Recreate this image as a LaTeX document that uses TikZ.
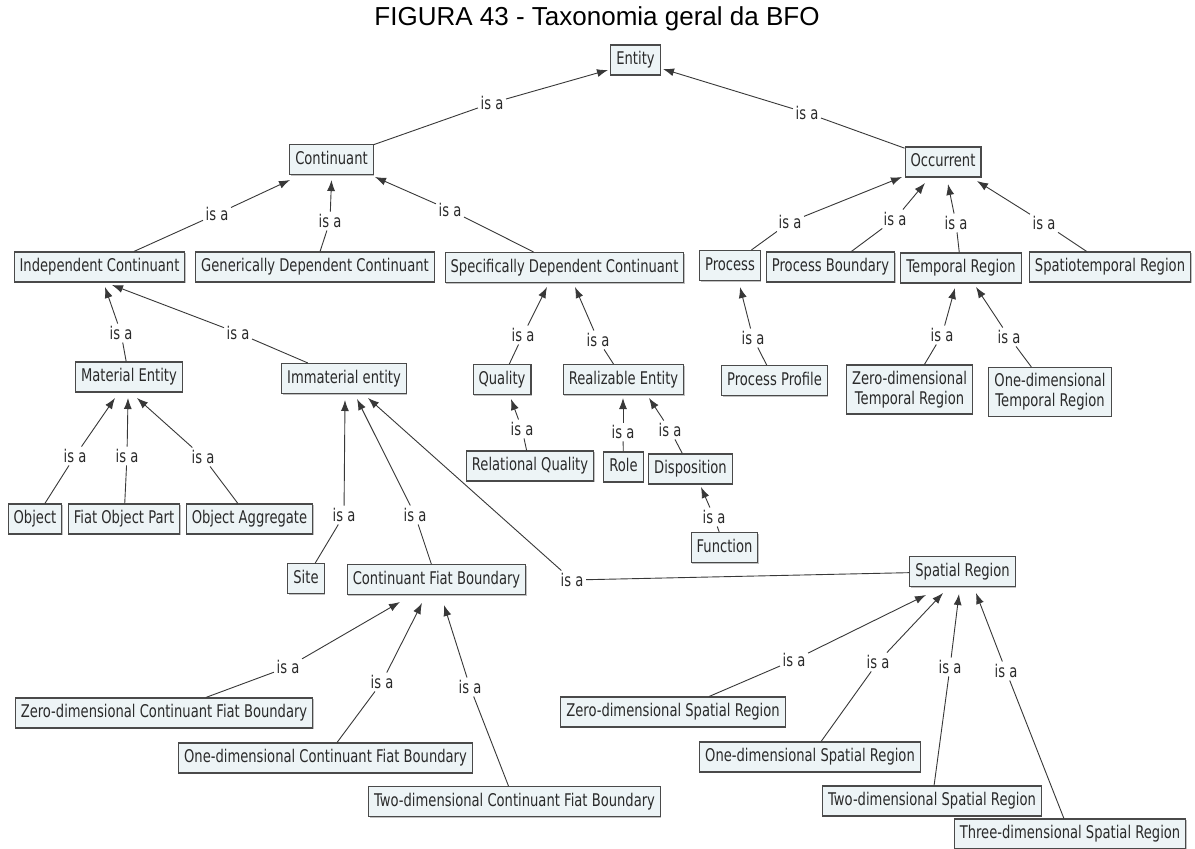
\documentclass[tikz,border=0pt]{standalone}
\usepackage{fontspec}
\newfontfamily\cmapfont[FakeStretch=0.75]{DejaVu Sans}
\newfontfamily\titlefont{Liberation Sans}
\usetikzlibrary{arrows.meta,calc,shadows}
\definecolor{boxfill}{HTML}{EDF4F6}
\definecolor{boxline}{HTML}{4A4A4A}
\definecolor{txt}{HTML}{2A2A2A}
\definecolor{linec}{HTML}{383838}
\begin{document}
\begin{tikzpicture}[x=1pt,y=-1pt,
  concept/.style={draw=boxline, fill=boxfill, line width=1.1pt,
    font=\cmapfont\fontsize{17.5}{20}\selectfont, text=txt,
    inner xsep=5.5pt, inner ysep=0pt, minimum height=30pt,
    text height=13pt, text depth=3.5pt,
    drop shadow={shadow xshift=1pt, shadow yshift=-1pt, fill=black!40, opacity=0.6}},
  concepttwo/.style={draw=boxline, fill=boxfill, line width=1.1pt,
    font=\cmapfont\fontsize{17.5}{20}\selectfont, text=txt, align=center,
    inner xsep=5.5pt, inner ysep=6pt,
    drop shadow={shadow xshift=1pt, shadow yshift=-1pt, fill=black!40, opacity=0.6}},
  isa/.style={font=\cmapfont\fontsize{17.5}{20}\selectfont, text=txt, inner sep=2.5pt},
  link/.style={draw=linec, line width=0.9pt},
  arr/.style={link, -{Latex[length=11pt,width=8pt]}}]
\fill[white] (0,0) rectangle (1195,849);
\useasboundingbox (0,0) rectangle (1195,849);

\node[font=\titlefont\fontsize{26}{30}\selectfont, text=black, anchor=base, inner sep=0pt] (title) at (597,25) {FIGURA 43 - Taxonomia geral da BFO};

% concepts
\node[concept] (entity) at (635.5,60) {Entity};
\node[concept] (cont) at (331.5,159.5) {Continuant};
\node[concept] (occ) at (943,162) {Occurrent};
\node[concept] (ic) at (99.5,267) {Independent Continuant};
\node[concept] (gdc) at (315,267) {Generically Dependent Continuant};
\node[concept] (sdc) at (564.5,267.5) {Specifically Dependent Continuant};
\node[concept] (proc) at (730,265.5) {Process};
\node[concept] (pb) at (830.5,267) {Process Boundary};
\node[concept] (tr) at (961,268) {Temporal Region};
\node[concept] (st) at (1110,267) {Spatiotemporal Region};
\node[concept] (me) at (129,377) {Material Entity};
\node[concept] (imm) at (344,378.5) {Immaterial entity};
\node[concept] (qual) at (502,379.5) {Quality};
\node[concept] (real) at (623.5,379.5) {Realizable Entity};
\node[concept] (pp) at (774.5,380.5) {Process Profile};
\node[concepttwo] (ztr) at (909.5,389.5) {Zero-dimensional\\Temporal Region};
\node[concepttwo] (otr) at (1050,392) {One-dimensional\\Temporal Region};
\node[concept] (rq) at (530,466) {Relational Quality};
\node[concept] (role) at (623.5,467) {Role};
\node[concept] (disp) at (690.5,469) {Disposition};
\node[concept] (func) at (724.5,547.5) {Function};
\node[concept] (obj) at (35,519) {Object};
\node[concept] (fop) at (124,519) {Fiat Object Part};
\node[concept] (oa) at (249.5,519) {Object Aggregate};
\node[concept] (site) at (306,578.5) {Site};
\node[concept] (cfb) at (436.5,579.5) {Continuant Fiat Boundary};
\node[concept] (sr) at (962.5,571.5) {Spatial Region};
\node[concept] (zcfb) at (164,713) {Zero-dimensional Continuant Fiat Boundary};
\node[concept] (ocfb) at (325.5,758) {One-dimensional Continuant Fiat Boundary};
\node[concept] (tcfb) at (514.5,801.5) {Two-dimensional Continuant Fiat Boundary};
\node[concept] (zsr) at (673,712) {Zero-dimensional Spatial Region};
\node[concept] (osr) at (810,757) {One-dimensional Spatial Region};
\node[concept] (tsr) at (932,801) {Two-dimensional Spatial Region};
\node[concept] (thsr) at (1070,834) {Three-dimensional Spatial Region};

% labels
\node[isa] (l1) at (492,103) {is a};
\node[isa] (l2) at (807,113) {is a};
\node[isa] (l3) at (217,214) {is a};
\node[isa] (l4) at (330,221) {is a};
\node[isa] (l5) at (450,210) {is a};
\node[isa] (l6) at (790,222) {is a};
\node[isa] (l7) at (895,219) {is a};
\node[isa] (l8) at (956,223) {is a};
\node[isa] (l9) at (1044,223) {is a};
\node[isa] (l10) at (121,333) {is a};
\node[isa] (l11) at (238,333) {is a};
\node[isa] (l12) at (523,335) {is a};
\node[isa] (l13) at (598,340) {is a};
\node[isa] (l14) at (753,338) {is a};
\node[isa] (l15) at (942,335) {is a};
\node[isa] (l16) at (1009,337) {is a};
\node[isa] (l17) at (75,456) {is a};
\node[isa] (l18) at (127,456) {is a};
\node[isa] (l19) at (203,457) {is a};
\node[isa] (l20) at (522,429) {is a};
\node[isa] (l21) at (623,432) {is a};
\node[isa] (l22) at (670,430) {is a};
\node[isa] (l23) at (714,517) {is a};
\node[isa] (l24) at (344,515) {is a};
\node[isa] (l25) at (415,515) {is a};
\node[isa] (l26) at (572,580) {is a};
\node[isa] (l27) at (288,667) {is a};
\node[isa] (l28) at (382,682) {is a};
\node[isa] (l29) at (470,687) {is a};
\node[isa] (l30) at (794,660) {is a};
\node[isa] (l31) at (878,662) {is a};
\node[isa] (l32) at (950,667) {is a};
\node[isa] (l33) at (1006,671) {is a};

% connectors
\draw[link] (cont) -- (l1); \draw[arr] (l1) -- ($(entity)+(-27.5,10)$);
\draw[link] (occ) -- (l2); \draw[arr] (l2) -- ($(entity)+(27.5,9)$);
\draw[link] (ic) -- (l3); \draw[arr] (l3) -- ($(cont)+(-41.5,20.5)$);
\draw[link] (gdc) -- (l4); \draw[arr] (l4) -- ($(cont)+(0,20.5)$);
\draw[link] (sdc) -- (l5); \draw[arr] (l5) -- ($(cont)+(43.5,17.5)$);
\draw[link] (proc) -- (l6); \draw[arr] (l6) -- ($(occ)+(-41,15)$);
\draw[link] (pb) -- (l7); \draw[arr] (l7) -- ($(occ)+(-18,21)$);
\draw[link] (tr) -- (l8); \draw[arr] (l8) -- ($(occ)+(5,22)$);
\draw[link] (st) -- (l9); \draw[arr] (l9) -- ($(occ)+(34,19)$);
\draw[link] (me) -- (l10); \draw[arr] (l10) -- ($(ic)+(5.5,20)$);
\draw[link] (imm) -- (l11); \draw[arr] (l11) -- ($(ic)+(12.5,18)$);
\draw[link] (qual) -- (l12); \draw[arr] (l12) -- ($(sdc)+(-17.5,19.5)$);
\draw[link] (real) -- (l13); \draw[arr] (l13) -- ($(sdc)+(10.5,19.5)$);
\draw[link] (pp) -- (l14); \draw[arr] (l14) -- ($(proc)+(10,21.5)$);
\draw[link] (ztr) -- (l15); \draw[arr] (l15) -- ($(tr)+(-6,20)$);
\draw[link] (otr) -- (l16); \draw[arr] (l16) -- ($(tr)+(15,19)$);
\draw[link] (obj) -- (l17); \draw[arr] (l17) -- ($(me)+(-14,21)$);
\draw[link] (fop) -- (l18); \draw[arr] (l18) -- ($(me)+(-1,21)$);
\draw[link] (oa) -- (l19); \draw[arr] (l19) -- ($(me)+(8,21)$);
\draw[link] (rq) -- (l20); \draw[arr] (l20) -- ($(qual)+(9,19.5)$);
\draw[link] (role) -- (l21); \draw[arr] (l21) -- ($(real)+(-0.5,18.5)$);
\draw[link] (disp) -- (l22); \draw[arr] (l22) -- ($(real)+(25.5,18.5)$);
\draw[link] (func) -- (l23); \draw[arr] (l23) -- ($(disp)+(10.5,18)$);
\draw[link] (site) -- (l24); \draw[arr] (l24) -- ($(imm)+(1,21.5)$);
\draw[link] (cfb) -- (l25); \draw[arr] (l25) -- ($(imm)+(13,20.5)$);
\draw[link] (sr) -- (l26); \draw[arr] (l26) -- ($(imm)+(24,19.5)$);
\draw[link] (zcfb) -- (l27); \draw[arr] (l27) -- ($(cfb)+(-36.5,22.5)$);
\draw[link] (ocfb) -- (l28); \draw[arr] (l28) -- ($(cfb)+(-14.5,23.5)$);
\draw[link] (tcfb) -- (l29); \draw[arr] (l29) -- ($(cfb)+(7.5,25.5)$);
\draw[link] (zsr) -- (l30); \draw[arr] (l30) -- ($(sr)+(-36.5,23.5)$);
\draw[link] (osr) -- (l31); \draw[arr] (l31) -- ($(sr)+(-19.5,21.5)$);
\draw[link] (tsr) -- (l32); \draw[arr] (l32) -- ($(sr)+(-3.5,22.5)$);
\draw[link] (thsr) -- (l33); \draw[arr] (l33) -- ($(sr)+(13.5,21.5)$);
\end{tikzpicture}
\end{document}
